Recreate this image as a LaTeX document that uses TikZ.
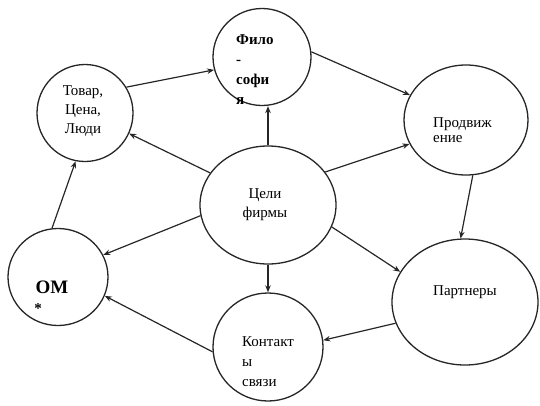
\documentclass[tikz,border=0pt]{standalone}
\usepackage{fontspec}
\setmainfont{Liberation Serif}
\usetikzlibrary{arrows.meta,shapes.geometric}

\begin{document}
\begin{tikzpicture}[x=1pt,y=-1pt,
  bubble/.style={draw=black!85,line width=1.3pt,ellipse,inner sep=0pt,fill=white},
  lbl/.style={font=\fontsize{15}{19}\selectfont,align=center,inner sep=0pt},
  lblleft/.style={font=\fontsize{15}{19}\selectfont,align=left,inner sep=0pt,anchor=west},
  link/.style={line width=1.2pt,draw=black!85,-{Stealth[length=7pt,width=5.5pt]}}]
\useasboundingbox (0,0) rectangle (540,405);

% bubbles
\node[bubble,minimum width=96pt,minimum height=97pt] (tovar) at (85,113) {};
\node[bubble,minimum width=98pt,minimum height=97pt] (filo) at (262,57) {};
\node[bubble,minimum width=124pt,minimum height=110pt] (prod) at (466,120) {};
\node[bubble,minimum width=136pt,minimum height=118pt] (celi) at (268,205) {};
\node[bubble,minimum width=100pt,minimum height=97pt] (om) at (58,277) {};
\node[bubble,minimum width=110pt,minimum height=108pt] (kont) at (268,347) {};
\node[bubble,minimum width=146pt,minimum height=126pt] (partn) at (465,302) {};

% texts
\node[lbl] (tovarT) at (83,111) {Товар,\\Цена,\\Люди};
\node[lblleft,font=\fontsize{15}{20}\selectfont\bfseries] (filoT) at (236,70) {Фило\\-\\софи\\я};
\node[lblleft,font=\fontsize{15}{15}\selectfont] (prodT) at (433,130) {Продвиж\\ение};
\node[lbl] (celiT) at (265,205) {Цели\\фирмы};
\node[font=\fontsize{19}{19}\selectfont\bfseries,inner sep=0pt] (omT) at (52,287) {ОМ};
\node[font=\fontsize{15}{15}\selectfont\bfseries,inner sep=0pt] (omS) at (38,309) {*};
\node[lblleft,font=\fontsize{15}{20}\selectfont] (kontT) at (242,362) {Контакт\\ы\\связи};
\node[lbl] (partnT) at (465,292) {Партнеры};

% connectors
\draw[link] (tovar.32) -- (filo.195);
\draw[link] (filo.6) -- (prod.156);
\draw[link] (celi.north) -- (celi.north |- filo.south);
\draw[link] (celi.151) -- (tovar.335);
\draw[link] (celi.30) -- (prod.203);
\draw[link] (prod.277) -- (partn.94);
\draw[link] (celi.341) -- (partn.155);
\draw[link] (partn.197) -- (kont.7);
\draw[link] (celi.south) -- (kont.north);
\draw[link] (celi.189) -- (om.26);
\draw[link] (kont.185) -- (om.338);
\draw[link] (om.97) -- (tovar.259);
\end{tikzpicture}
\end{document}
